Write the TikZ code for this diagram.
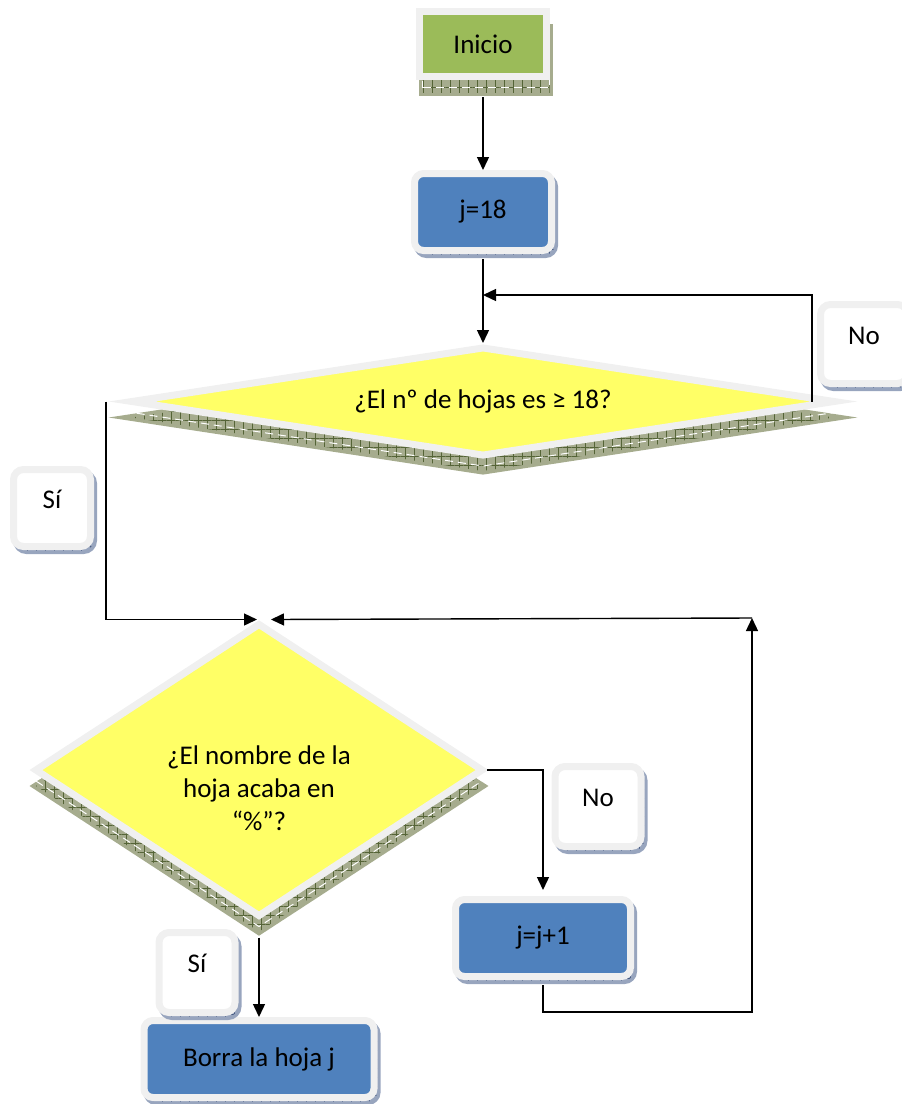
\documentclass[tikz,border=0pt]{standalone}
\usepackage{fontspec}
\setmainfont{Carlito}
\usepackage{xcolor}
\usetikzlibrary{positioning,shapes.geometric,shadows,patterns.meta,arrows.meta}

\definecolor{framegray}{RGB}{240,240,240}
\definecolor{startgreen}{RGB}{155,187,89}
\definecolor{boxblue}{RGB}{79,129,189}
\definecolor{askyellow}{RGB}{255,255,102}
\definecolor{olivesh}{RGB}{166,172,142}
\definecolor{olivegrid}{RGB}{85,100,55}
\definecolor{bluesh}{RGB}{152,165,190}
\definecolor{bluegrid}{RGB}{70,90,130}
\newcommand{\chartfont}{\fontsize{27}{33}\selectfont}

\tikzset{
  olive shadow/.style={
    general shadow={fill=olivesh, draw=olivesh, shadow xshift=#1, shadow yshift=-16pt},
    general shadow={pattern={Hatch[angle=0,distance=9pt,line width=.6pt]}, pattern color=olivegrid, shadow xshift=#1, shadow yshift=-16pt},
    general shadow={draw=white, line width=1pt, dash pattern=on 8pt off 5pt, shadow xshift=#1, shadow yshift=-11pt}},
  blue shadow/.style={
    general shadow={fill=bluesh, draw=bluesh, shadow xshift=3pt, shadow yshift=-4pt},
    general shadow={pattern={Hatch[angle=0,distance=9pt,line width=.5pt]}, pattern color=bluegrid, shadow xshift=3pt, shadow yshift=-4pt}},
  startbox/.style={rectangle, draw=framegray, line width=7pt, fill=startgreen, inner sep=0pt,
    minimum width=127pt, minimum height=65pt, olive shadow=3pt},
  actionbox/.style={rectangle, rounded corners=9pt, draw=framegray, line width=7pt, fill=boxblue,
    inner sep=0pt, minimum height=77pt, blue shadow},
  askbox/.style={diamond, draw=framegray, line width=7pt, fill=askyellow, inner sep=0pt, olive shadow=0pt},
  answer/.style={rectangle, rounded corners=10pt, draw=framegray, line width=7pt, fill=white, inner sep=0pt,
    minimum width=77pt, minimum height=77pt, text height=18pt, text depth=18pt, blue shadow},
  flow/.style={line width=1.4pt, -{Triangle[length=13pt,width=12pt]}}
}

\begin{document}
\begin{tikzpicture}[x=1pt,y=-1pt,on grid,font=\chartfont]
  \useasboundingbox (0,0) rectangle (902,1104);

  % main column
  \node[startbox] (inicio) at (483,44) {Inicio};
  \node[actionbox, minimum width=137pt] (j18) [below=168pt of inicio] {j=18};
  \node[askbox, minimum width=705pt, minimum height=110pt, aspect=6] (d1) [below=189.5pt of j18] {¿El nº de hojas es ≥ 18?};
  \node[askbox, minimum width=449pt, minimum height=294pt,
    label={[align=center, font=\chartfont, yshift=-18pt]center:{¿El nombre de la\\hoja acaba en\\“\%”?}}] (d2) at (259,770) {};
  \node[actionbox, minimum width=175pt] (jp1) at (543,938) {j=j+1};
  \node[actionbox, minimum width=230pt] (borra) [below=289pt of d2] {Borra la hoja j};

  % answer boxes
  \node[answer] (si1) at (52,508) {Sí};
  \node[answer, minimum width=87pt, minimum height=79pt] (no1) at (864,344) {No};
  \node[answer, minimum width=86pt, minimum height=80pt] (no2) at (598,806.5) {No};
  \node[answer, minimum width=76pt, minimum height=80pt] (si2) at (197,972.5) {Sí};

  \coordinate (back1) at (483,295);
  \coordinate (loopdown) at (752,1012);
  \coordinate (looptop) at (752,618);

  \draw[flow, shorten <=17pt] (inicio) -- (j18);
  \draw[flow, shorten <=5pt] (j18) -- (d1);
  \draw[flow] ([xshift=-27pt]d1.east) |- (back1);
  \draw[flow] ([xshift=-21pt]d1.west) |- ([xshift=-2pt]d2.north);
  \draw[flow, shorten >=6pt] (d2.east) -| (jp1.north);
  \draw[flow, shorten <=5pt] (jp1.south) |- (loopdown) -- (looptop);
  \draw[flow] (looptop) -- ([xshift=12pt]d2.north);
  \draw[flow, shorten <=17pt] (d2.south) -- (d2.south |- borra.north);
\end{tikzpicture}
\end{document}
